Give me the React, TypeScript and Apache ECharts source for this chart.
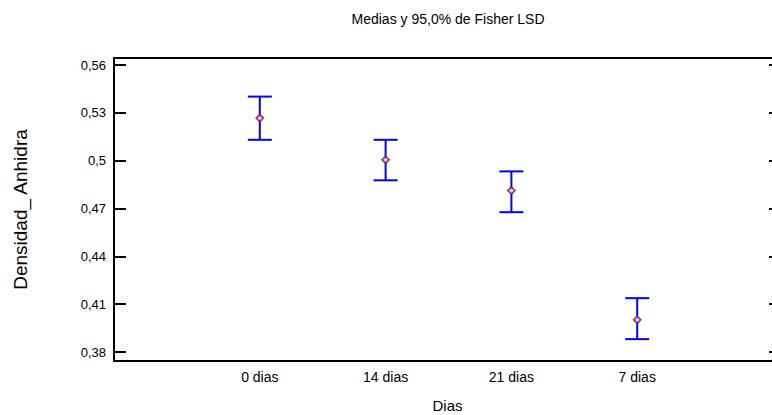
import React, { useEffect, useRef } from "react";
import * as echarts from "echarts";

const categories = ["0 dias", "14 dias", "21 dias", "7 dias"];
const means = [0.5267, 0.5006, 0.4813, 0.4002];
const lowers = [0.5131, 0.4877, 0.4677, 0.3881];
const uppers = [0.5402, 0.5131, 0.4933, 0.4138];
const yTicks = [0.38, 0.41, 0.44, 0.47, 0.5, 0.53, 0.56];

const FONT = "Liberation Sans";

export default function App() {
  const ref = useRef<HTMLDivElement>(null);
  useEffect(() => {
    const chart = echarts.init(ref.current!, null, { renderer: "svg" });
    const idx = categories.map((_, i) => i);
    const fmtY = (v: number) => String(Math.round(v * 100) / 100).replace(".", ",");
    chart.setOption({
      animation: false,
      backgroundColor: "#ffffff",
      textStyle: { fontFamily: FONT },
      title: {
        text: "Medias y 95,0% de Fisher LSD",
        left: 443,
        top: 7,
        textAlign: "center",
        textStyle: { fontFamily: FONT, fontSize: 14, fontWeight: "normal", color: "#000" },
      },
      grid: { left: 114, top: 58, width: 667, bottom: 54, outerBoundsMode: "none", containLabel: false },
      xAxis: [
        {
          type: "value",
          min: -1.159,
          max: 4.143,
          splitLine: { show: false },
          axisLine: { show: true, onZero: false, lineStyle: { color: "#000", width: 2 } },
          axisTick: { show: false },
          axisLabel: {
            customValues: idx,
            formatter: (v: number) => categories[Math.round(v)] ?? "",
            color: "#000",
            fontSize: 14,
            fontFamily: FONT,
            margin: 9,
          },
          name: "Dias",
          nameLocation: "middle",
          nameGap: 37,
          nameTextStyle: { color: "#000", fontSize: 15, fontFamily: FONT },
        },
        {
          type: "value",
          position: "top",
          min: -1.159,
          max: 4.143,
          splitLine: { show: false },
          axisLine: { show: true, onZero: false, lineStyle: { color: "#000", width: 2 } },
          axisTick: { show: false },
          axisLabel: { show: false },
        },
      ],
      yAxis: [
        {
          type: "value",
          min: 0.3744,
          max: 0.5644,
          splitLine: { show: false },
          axisLine: { show: true, onZero: false, lineStyle: { color: "#000", width: 2 } },
          axisTick: { show: true, inside: true, length: 12, customValues: yTicks, lineStyle: { color: "#000", width: 2 } },
          axisLabel: {
            customValues: yTicks,
            formatter: fmtY,
            color: "#000",
            fontSize: 13,
            fontFamily: FONT,
            margin: 8,
          },
          name: "Densidad_ Anhidra",
          nameLocation: "middle",
          nameGap: 84,
          nameTextStyle: { color: "#000", fontSize: 19, fontFamily: FONT },
        },
        {
          type: "value",
          position: "right",
          min: 0.3744,
          max: 0.5644,
          splitLine: { show: false },
          axisLine: { show: true, onZero: false, lineStyle: { color: "#000", width: 2 } },
          axisTick: { show: true, inside: true, length: 12, customValues: yTicks, lineStyle: { color: "#000", width: 2 } },
          axisLabel: { show: false },
        },
      ],
      series: [
        {
          type: "custom",
          xAxisIndex: 0,
          yAxisIndex: 0,
          data: idx.map((i) => [i, lowers[i], uppers[i]]),
          renderItem: (params: any, api: any) => {
            const x = api.value(0);
            const lo = api.coord([x, api.value(1)]);
            const hi = api.coord([x, api.value(2)]);
            const hw = 12;
            const style = { stroke: "#0000ff", lineWidth: 2 };
            return {
              type: "group",
              children: [
                { type: "line", shape: { x1: lo[0], y1: lo[1], x2: hi[0], y2: hi[1] }, style },
                { type: "line", shape: { x1: hi[0] - hw, y1: hi[1], x2: hi[0] + hw, y2: hi[1] }, style },
                { type: "line", shape: { x1: lo[0] - hw, y1: lo[1], x2: lo[0] + hw, y2: lo[1] }, style },
              ],
            };
          },
          z: 2,
        },
        {
          type: "scatter",
          xAxisIndex: 0,
          yAxisIndex: 0,
          data: idx.map((i) => [i, means[i]]),
          symbol: "diamond",
          symbolSize: 7,
          itemStyle: { color: "#ffffff", borderColor: "#8b0a50", borderWidth: 1.8 },
          z: 3,
        },
      ],
    });
    return () => chart.dispose();
  }, []);
  return (
    <div
      ref={ref}
      style={{ position: "fixed", left: 0, top: 0, width: 772, height: 415, background: "#fff" }}
    />
  );
}
